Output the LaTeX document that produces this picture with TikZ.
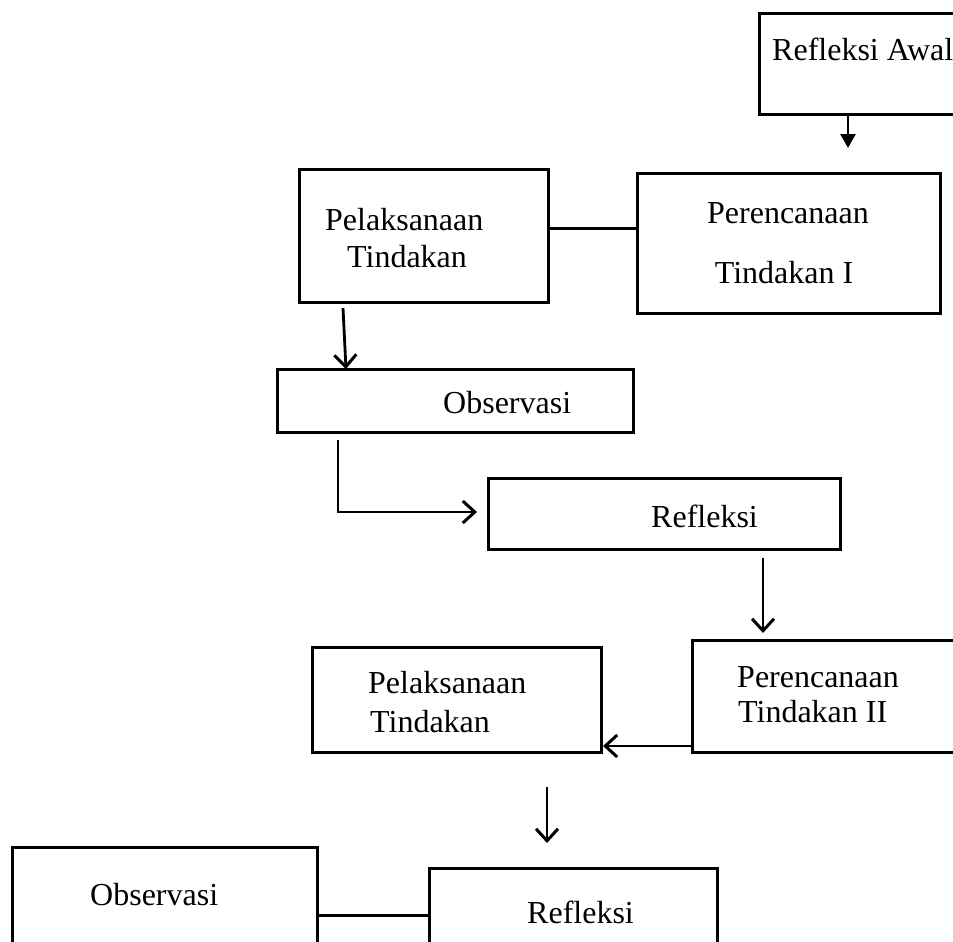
\documentclass[tikz,border=0pt]{standalone}
\usepackage{fontspec}
\setmainfont{Liberation Serif}
\usetikzlibrary{arrows.meta}
\begin{document}
\begin{tikzpicture}[x=1pt,y=-1pt,
  box/.style={draw=black,line width=3pt,inner sep=0pt,outer sep=0pt},
  txt/.style={anchor=base west,inner sep=0pt,font=\fontsize{32}{36}\selectfont},
  ln/.style={line width=3pt},
  tri/.style={line width=2.8pt,-{Triangle[length=14pt,width=15pt]}},
  opn/.style={line width=2.8pt,-{Straight Barb[length=12pt,width=22pt,line width=3pt]}}]
\useasboundingbox (0,0) rectangle (953,942);
\clip (0,0) rectangle (953,942);
% boxes
\node[box,minimum width=241pt,minimum height=100pt] (ra) at (879.5,64) {};
\node[box,minimum width=303pt,minimum height=140pt] (p1) at (788.5,243) {};
\node[box,minimum width=249pt,minimum height=133pt] (l1) at (423.5,235.5) {};
\node[box,minimum width=356pt,minimum height=63pt] (o1) at (455,400.5) {};
\node[box,minimum width=352pt,minimum height=71pt] (r1) at (664,513.5) {};
\node[box,minimum width=308pt,minimum height=112pt] (p2) at (846,696) {};
\node[box,minimum width=289pt,minimum height=105pt] (l2) at (456.5,699.5) {};
\node[box,minimum width=305pt,minimum height=153pt] (o2) at (164.5,923.5) {};
\node[box,minimum width=288pt,minimum height=132pt] (r2) at (573,934) {};
% texts
\node[txt] (tra) at (772,61) {Refleksi Awal};
\node[txt,anchor=base] (tp1a) at (788,223) {Perencanaan};
\node[txt,anchor=base] (tp1b) at (784,283) {Tindakan I};
\node[txt] (tl1a) at (325,230) {Pelaksanaan};
\node[txt] (tl1b) at (347,267) {Tindakan};
\node[txt] (to1) at (443,413) {Observasi};
\node[txt] (tr1) at (651,527) {Refleksi};
\node[txt] (tp2a) at (737,687) {Perencanaan};
\node[txt] (tp2b) at (738,722) {Tindakan II};
\node[txt] (tl2a) at (368,693) {Pelaksanaan};
\node[txt] (tl2b) at (370,732) {Tindakan};
\node[txt] (to2) at (90,905) {Observasi};
\node[txt] (tr2) at (527,923) {Refleksi};
% connectors
\coordinate (c1) at (848,148);
\draw[tri] (c1 |- ra.south) -- (c1);
\coordinate (c2) at (0,228);
\draw[ln] (c2 -| l1.east) -- (c2 -| p1.west);
\coordinate (c3a) at (343,308);
\coordinate (c3b) at (346,0);
\draw[opn] (c3a) -- (c3b |- o1.north);
\coordinate (c4a) at (338,440);
\coordinate (c4b) at (477,512);
\draw[opn] (c4a) |- (c4b);
\coordinate (c5a) at (763,558);
\coordinate (c5b) at (763,633);
\draw[opn] (c5a) -- (c5b);
\coordinate (c6) at (603,746);
\draw[opn] (c6 -| p2.west) -- (c6);
\coordinate (c7a) at (547,787);
\coordinate (c7b) at (547,843);
\draw[opn] (c7a) -- (c7b);
\coordinate (c8) at (0,915);
\draw[ln] (c8 -| o2.east) -- (c8 -| r2.west);
\end{tikzpicture}
\end{document}
